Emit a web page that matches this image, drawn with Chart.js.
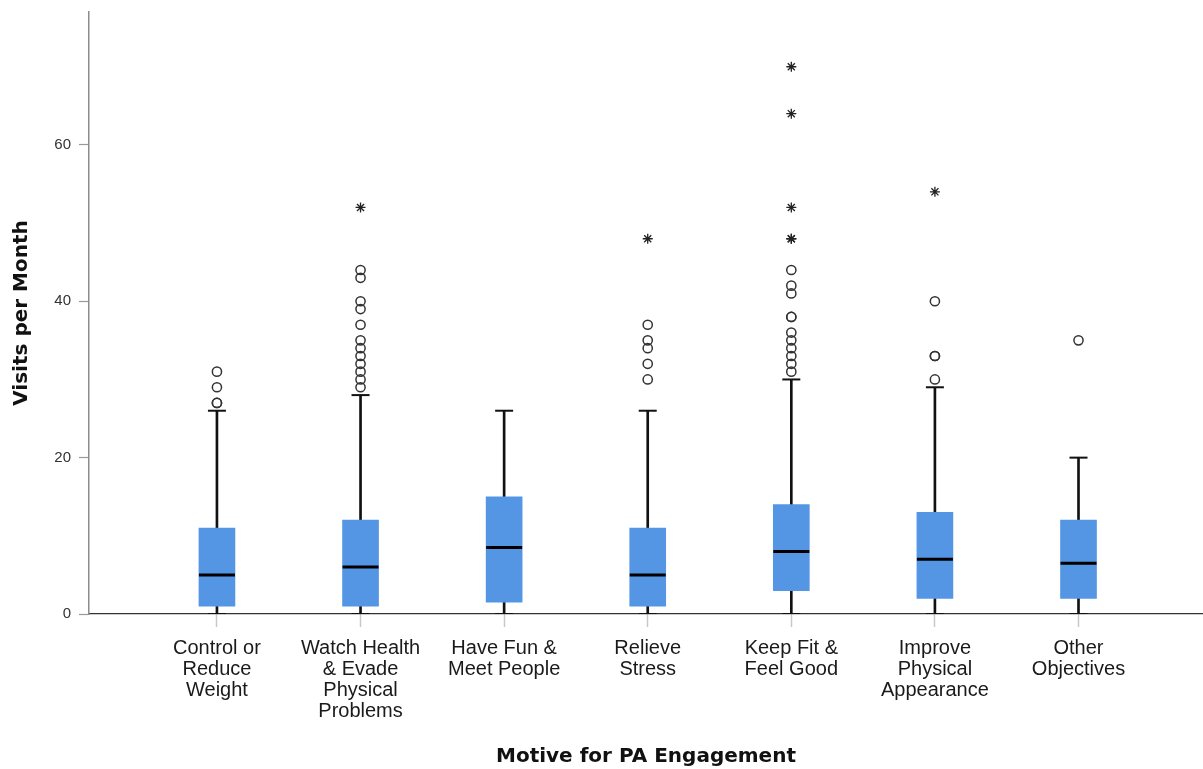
<!DOCTYPE html>
<html>
<head>
<meta charset="utf-8">
<script src="https://cdn.jsdelivr.net/npm/chart.js@4.4.1/dist/chart.umd.min.js"></script>
<style>
  html, body { margin: 0; padding: 0; background: #ffffff; }
  #wrap { width: 1203px; height: 769px; position: relative; }
</style>
</head>
<body>
<div id="wrap"><canvas id="c"></canvas></div>
<script>
const categories = [
  ["Control or", "Reduce", "Weight"],
  ["Watch Health", "& Evade", "Physical", "Problems"],
  ["Have Fun &", "Meet People"],
  ["Relieve", "Stress"],
  ["Keep Fit &", "Feel Good"],
  ["Improve", "Physical", "Appearance"],
  ["Other", "Objectives"]
];
const whiskerLow  = [0, 0, 0, 0, 0, 0, 0];
const q1          = [1, 1, 1.5, 1, 3, 2, 2];
const median      = [5, 6, 8.5, 5, 8, 7, 6.5];
const q3          = [11, 12, 15, 11, 14, 13, 12];
const whiskerHigh = [26, 28, 26, 26, 30, 29, 20];
const outliers = [
  [31, 29, 27, 27],
  [44, 43, 40, 39, 37, 35, 34, 33, 32, 31, 30, 29],
  [],
  [37, 35, 34, 32, 30],
  [44, 42, 41, 38, 38, 36, 35, 34, 33, 32, 31],
  [40, 33, 33, 30],
  [35]
];
const extremes = [
  [],
  [52],
  [],
  [48],
  [70, 64, 52, 48, 48],
  [54],
  []
];
const yTicks = [0, 20, 40, 60];
const yTitle = "Visits per Month";
const xTitle = "Motive for PA Engagement";

const idx = categories.map((_, i) => i);
const boxData = idx.map(i => ({ x: i, y: [q1[i], q3[i]] }));
const whiskerData = idx.map(i => ({ x: i, y: [whiskerLow[i], whiskerHigh[i]] }));
const medianData = idx.map(i => ({ x: i, y: median[i] }));
const capData = idx.flatMap(i => [{ x: i, y: whiskerLow[i] }, { x: i, y: whiskerHigh[i] }]);
const outlierData = idx.flatMap(i => outliers[i].map(v => ({ x: i, y: v })));
const extremeData = idx.flatMap(i => extremes[i].map(v => ({ x: i, y: v })));

const titleFont = { family: '"DejaVu Sans", sans-serif', size: 20, weight: 'bold', lineHeight: 1.2 };
const tickFontX = { family: '"Liberation Sans", Arial, sans-serif', size: 20, lineHeight: 1.05 };
const tickFontY = { family: '"Liberation Sans", Arial, sans-serif', size: 15 };

new Chart(document.getElementById('c'), {
  type: 'bar',
  data: {
    datasets: [
      { type: 'bar', data: whiskerData, backgroundColor: '#111111', barThickness: 2, grouped: false, order: 4 },
      { type: 'bar', data: boxData, backgroundColor: '#5596e4', borderWidth: 0, barThickness: 36, grouped: false, order: 3 },
      { type: 'scatter', data: capData, pointStyle: 'line', pointRadius: 9, borderColor: '#111111', pointBorderWidth: 2, order: 2 },
      { type: 'scatter', data: medianData, pointStyle: 'line', pointRadius: 18, borderColor: '#000000', pointBorderWidth: 3, order: 1 },
      { type: 'scatter', data: outlierData, pointStyle: 'circle', pointRadius: 4.6, borderColor: '#333333', backgroundColor: 'rgba(0,0,0,0)', pointBorderWidth: 1.5, order: 0 },
      { type: 'scatter', data: extremeData, pointStyle: 'star', pointRadius: 5, borderColor: '#222222', pointBorderWidth: 1.3, order: 0 }
    ]
  },
  options: {
    responsive: true,
    maintainAspectRatio: false,
    animation: false,
    layout: { autoPadding: false, padding: { top: 12, left: 0, right: 0, bottom: 0 } },
    plugins: { legend: { display: false }, tooltip: { enabled: false } },
    scales: {
      x: {
        type: 'linear',
        min: -0.891,
        max: 6.867,
        offset: false,
        grid: { offset: false, drawOnChartArea: false, drawTicks: true, tickLength: 13, tickColor: '#c8c8c8', tickWidth: 1.5 },
        border: { display: true, color: '#333333', width: 1.2 },
        afterFit: s => { s.height = 155; s.paddingLeft = 0; s.paddingRight = 0; },
        afterBuildTicks: s => { s.ticks = idx.map(i => ({ value: i })); },
        ticks: {
          autoSkip: false,
          maxRotation: 0,
          minRotation: 0,
          padding: 11,
          color: '#1a1a1a',
          font: tickFontX,
          callback: v => categories[v] || ''
        },
        title: {
          display: true,
          text: xTitle,
          color: '#111111',
          font: titleFont,
          padding: { top: 0, bottom: 0 }
        }
      },
      y: {
        type: 'linear',
        min: 0,
        max: 77,
        grid: { drawOnChartArea: false, drawTicks: true, tickLength: 10, tickColor: '#999999', tickWidth: 1.2 },
        border: { display: true, color: '#8c8c8c', width: 1.5 },
        afterFit: s => { s.width = 89; s.paddingTop = 0; s.paddingBottom = 0; },
        afterBuildTicks: s => { s.ticks = yTicks.map(v => ({ value: v })); },
        ticks: {
          padding: 8,
          color: '#333333',
          font: tickFontY
        },
        title: {
          display: true,
          text: yTitle,
          color: '#111111',
          font: titleFont,
          padding: { top: 10, bottom: 0 }
        }
      }
    }
  }
});
</script>
</body>
</html>
